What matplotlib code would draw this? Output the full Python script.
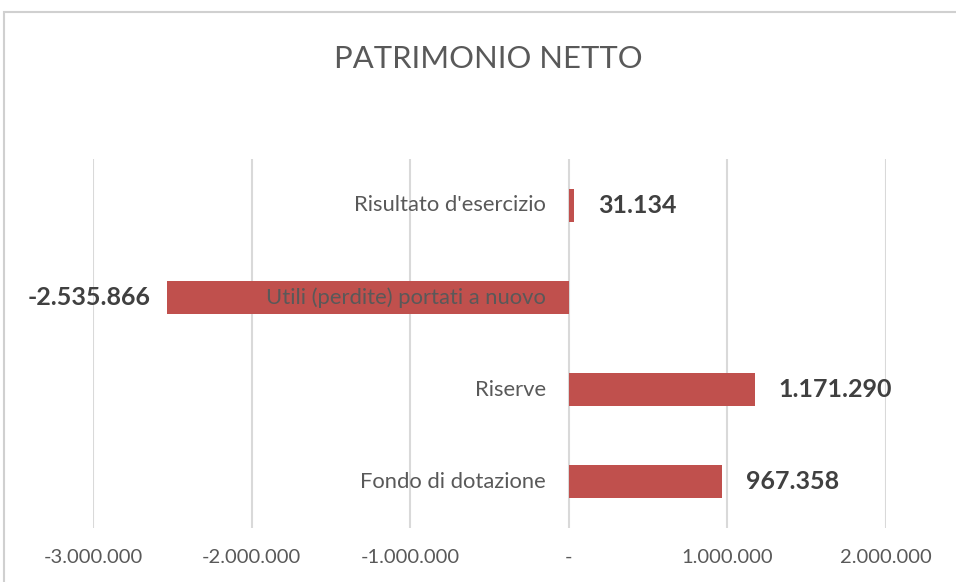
import numpy as np
import matplotlib.pyplot as plt
from matplotlib.patches import Rectangle

plt.rcParams['font.family'] = ['Lato', 'DejaVu Sans']

categories = ["Fondo di dotazione", "Riserve", "Utili (perdite) portati a nuovo", "Risultato d'esercizio"]
values = [967358, 1171290, -2535866, 31134]
value_labels = ["967.358", "1.171.290", "-2.535.866", "31.134"]
xticks = [-3000000, -2000000, -1000000, 0, 1000000, 2000000]
xtick_labels = ["-3.000.000", "-2.000.000", "-1.000.000", "-", "1.000.000", "2.000.000"]

BAR = "#C0504D"
GRID = "#D9D9D9"
TXT = "#595959"

fig = plt.figure(figsize=(9.56, 5.82), dpi=100)
# chart frame (only top and left edges fall inside the picture)
fig.patches.append(Rectangle((4/956, -0.1), 1, 1.1 - 12/582, transform=fig.transFigure,
                             fill=False, edgecolor="#D0D0D0", linewidth=1.5))
ax = fig.add_axes([93/956, 1 - 528/582, 793/956, 369/582])

y = np.arange(len(categories))
ax.barh(y, values, height=0.36, color=BAR, zorder=2)

ax.set_xlim(-3000000, 2000000)
ax.set_ylim(-0.5, len(categories) - 0.5)
ax.set_xticks(xticks)
ax.set_xticklabels(xtick_labels, fontsize=14.5, color=TXT)
ax.tick_params(axis='x', length=0, pad=15)
ax.set_yticks([])
ax.grid(axis='x', color=GRID, linewidth=1.5, zorder=0)
for s in ax.spines.values():
    s.set_visible(False)

for yi, cat, v, lab in zip(y, categories, values, value_labels):
    ax.annotate(cat, (0, yi), xytext=(-23, 0), textcoords="offset pixels",
                ha="right", va="center", fontsize=15.8, color=TXT, zorder=3)
    if v >= 0:
        ax.annotate(lab, (v, yi), xytext=(24, 0), textcoords="offset pixels",
                    ha="left", va="center", fontsize=18, fontweight="bold", color="#404040")
    else:
        ax.annotate(lab, (v, yi), xytext=(-16, 0), textcoords="offset pixels",
                    ha="right", va="center", fontsize=18, fontweight="bold", color="#404040")

fig.text(488/956, 1 - 59/582, "PATRIMONIO NETTO", ha="center", va="center",
         fontsize=22.3, color=TXT)

fig.savefig("out.png", dpi=100)
